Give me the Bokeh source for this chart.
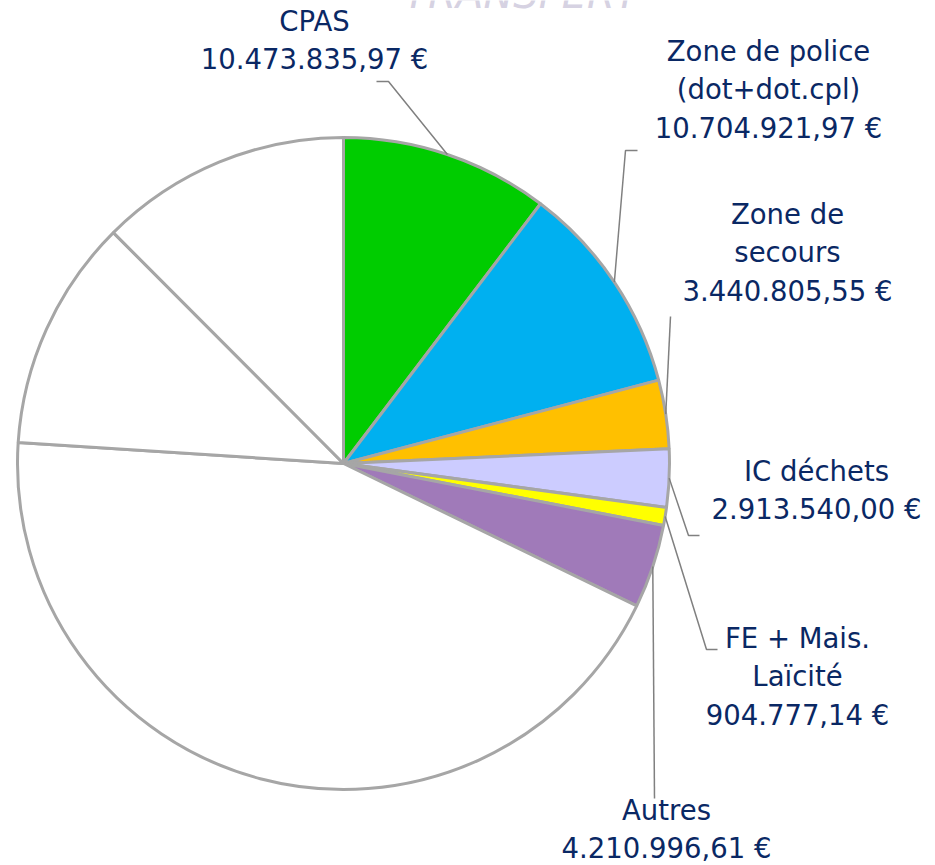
import math
from bokeh.plotting import figure
from bokeh.models import Range1d
from bokeh.core.properties import value
from bokeh.embed import file_html
from bokeh.resources import INLINE

# ---- data ----
names = ["CPAS", "Zone de police\n(dot+dot.cpl)", "Zone de\nsecours", "IC déchets",
         "FE + Mais.\nLaïcité", "Autres", "", "", ""]
amounts = [10473835.97, 10704921.97, 3440805.55, 2913540.00, 904777.14, 4210996.61,
           44450000.0, 11660000.0, 12650000.0]
colors = ["#00cc00", "#00b0f0", "#ffc000", "#ccccff", "#ffff00", "#a07ab9",
          "#ffffff", "#ffffff", "#ffffff"]
title_text = "TRANSFERT"

# label layout (picture pixel coordinates): centre x, first-line centre y
label_pos = [(314, 20), (768, 50), (787, 213), (816, 470), (797, 637), (666, 809)]
# leader line bend points after the pie edge point
leader_pts = [[(388, 81), (376, 81)],
              [(625, 150), (637, 150)],
              [(670, 316)],
              [(688, 535), (699, 535)],
              [(706, 649), (717, 649)],
              [(654, 798)]]

W, H = 935, 865
CX, CY, R = 343, 463, 326
LINE_H = 38.5
TEXT_COLOR = "#0a2864"
FONT = "DejaVu Sans"


def fmt_eur(v):
    s = f"{v:,.2f}".replace(",", "X").replace(".", ",").replace("X", ".")
    return s + " €"


p = figure(width=W, height=H, output_backend="svg", toolbar_location=None,
           x_range=Range1d(0, W), y_range=Range1d(-H, 0),
           min_border=0)
p.axis.visible = False
p.grid.visible = False
p.outline_line_color = None
p.background_fill_color = "#ffffff"
p.border_fill_color = "#ffffff"

total = sum(amounts)
cum = 0.0
starts, ends, mids = [], [], []
for a in amounts:
    s = cum / total * 2 * math.pi
    cum += a
    e = cum / total * 2 * math.pi
    starts.append(math.pi / 2 - s)
    ends.append(math.pi / 2 - e)
    mids.append((s + e) / 2)

p.wedge(x=[CX] * len(amounts), y=[-CY] * len(amounts), radius=R,
        start_angle=starts, end_angle=ends, direction="clock",
        fill_color=colors, line_color="#a6a6a6", line_width=3)

# leader lines and labels
for i, name in enumerate(names):
    if not name:
        continue
    m = mids[i]
    ex = CX + R * math.sin(m)
    ey = CY - R * math.cos(m)
    xs = [ex] + [pt[0] for pt in leader_pts[i]]
    ys = [-ey] + [-pt[1] for pt in leader_pts[i]]
    p.line(xs, ys, line_color="#808080", line_width=1.5)
    lines = name.split("\n") + [fmt_eur(amounts[i])]
    lx, ly = label_pos[i]
    p.text(x=[lx] * len(lines), y=[-(ly + k * LINE_H) for k in range(len(lines))],
           text=lines, text_align="center", text_baseline="middle",
           text_color=TEXT_COLOR, text_font=value(FONT), text_font_size="27.5px")

# title, mostly cut off at top (as in the reference)
p.text(x=[521], y=[7], text=[title_text], text_align="center",
       text_baseline="alphabetic", text_color="#d6d2e2", text_font=value(FONT),
       text_font_size="40px", text_font_style="italic")

open("out.html", "w").write(file_html(p, INLINE))
